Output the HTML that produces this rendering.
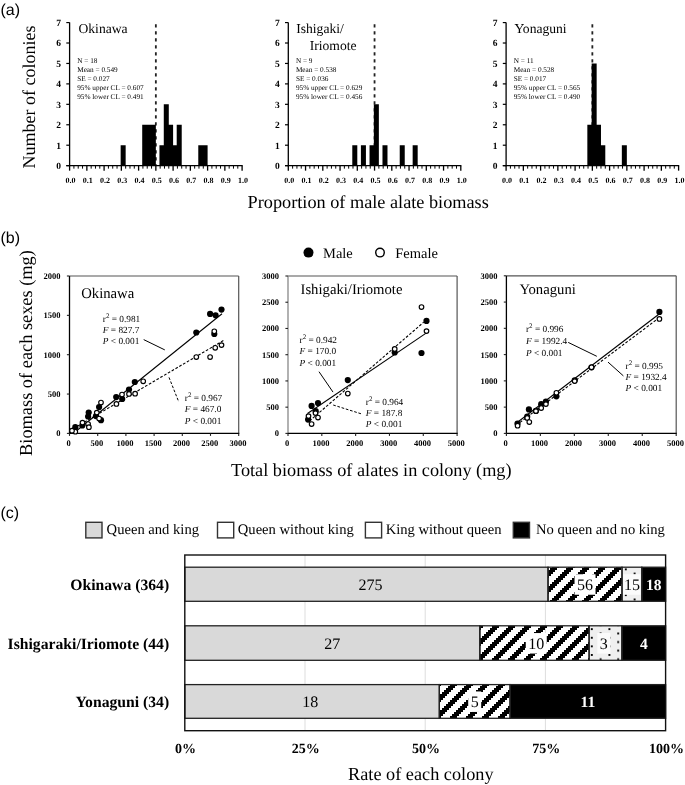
<!DOCTYPE html>
<html><head><meta charset="utf-8"><style>
html,body{margin:0;padding:0;background:#fff;}
svg{display:block;text-rendering:geometricPrecision;will-change:transform;}
</style></head><body>
<svg width="685" height="785" viewBox="0 0 685 785">
<rect width="685" height="785" fill="#fff"/>
<text x="0.50" y="14.70" font-size="16" text-anchor="start" fill="#000" font-family='"Liberation Sans", sans-serif' >(a)</text>
<text transform="translate(34.8,97) rotate(-90)" font-size="18" text-anchor="middle" font-family='"Liberation Serif", serif'>Number of colonies</text>
<line x1="155.85" y1="24.20" x2="155.85" y2="165.65" stroke="#222" stroke-width="1.8" stroke-dasharray="3.4,3.6"/>
<path d="M120.65,165.65V145.21H125.66V165.65ZM142.21,165.65V124.77H147.22V165.65ZM146.53,165.65V124.77H151.54V165.65ZM150.84,165.65V124.77H155.85V165.65ZM159.46,165.65V145.21H164.47V165.65ZM163.78,165.65V104.33H168.79V165.65ZM168.09,165.65V124.77H173.10V165.65ZM172.40,165.65V145.21H177.41V165.65ZM176.71,165.65V124.77H181.72V165.65ZM198.28,165.65V145.21H203.29V165.65ZM202.59,165.65V145.21H207.60V165.65Z" fill="#000" fill-rule="nonzero"/>
<line x1="69.60" y1="22.40" x2="69.60" y2="166.25" stroke="#000" stroke-width="1.3" />
<line x1="66.30" y1="165.65" x2="69.60" y2="165.65" stroke="#000" stroke-width="1.2" />
<text x="61.00" y="168.95" font-size="9.5" text-anchor="end" font-weight="bold" fill="#000" font-family='"Liberation Serif", serif' >0</text>
<line x1="66.30" y1="145.21" x2="69.60" y2="145.21" stroke="#000" stroke-width="1.2" />
<text x="61.00" y="148.51" font-size="9.5" text-anchor="end" font-weight="bold" fill="#000" font-family='"Liberation Serif", serif' >1</text>
<line x1="66.30" y1="124.77" x2="69.60" y2="124.77" stroke="#000" stroke-width="1.2" />
<text x="61.00" y="128.07" font-size="9.5" text-anchor="end" font-weight="bold" fill="#000" font-family='"Liberation Serif", serif' >2</text>
<line x1="66.30" y1="104.33" x2="69.60" y2="104.33" stroke="#000" stroke-width="1.2" />
<text x="61.00" y="107.63" font-size="9.5" text-anchor="end" font-weight="bold" fill="#000" font-family='"Liberation Serif", serif' >3</text>
<line x1="66.30" y1="83.89" x2="69.60" y2="83.89" stroke="#000" stroke-width="1.2" />
<text x="61.00" y="87.19" font-size="9.5" text-anchor="end" font-weight="bold" fill="#000" font-family='"Liberation Serif", serif' >4</text>
<line x1="66.30" y1="63.45" x2="69.60" y2="63.45" stroke="#000" stroke-width="1.2" />
<text x="61.00" y="66.75" font-size="9.5" text-anchor="end" font-weight="bold" fill="#000" font-family='"Liberation Serif", serif' >5</text>
<line x1="66.30" y1="43.01" x2="69.60" y2="43.01" stroke="#000" stroke-width="1.2" />
<text x="61.00" y="46.31" font-size="9.5" text-anchor="end" font-weight="bold" fill="#000" font-family='"Liberation Serif", serif' >6</text>
<line x1="66.30" y1="22.57" x2="69.60" y2="22.57" stroke="#000" stroke-width="1.2" />
<text x="61.00" y="25.87" font-size="9.5" text-anchor="end" font-weight="bold" fill="#000" font-family='"Liberation Serif", serif' >7</text>
<line x1="66.30" y1="165.65" x2="242.70" y2="165.65" stroke="#000" stroke-width="1.3" />
<line x1="69.60" y1="165.65" x2="69.60" y2="170.65" stroke="#000" stroke-width="1.3" />
<line x1="73.91" y1="165.65" x2="73.91" y2="168.65" stroke="#000" stroke-width="1.0" />
<line x1="78.22" y1="165.65" x2="78.22" y2="168.65" stroke="#000" stroke-width="1.0" />
<line x1="82.54" y1="165.65" x2="82.54" y2="168.65" stroke="#000" stroke-width="1.0" />
<line x1="86.85" y1="165.65" x2="86.85" y2="170.65" stroke="#000" stroke-width="1.3" />
<line x1="91.16" y1="165.65" x2="91.16" y2="168.65" stroke="#000" stroke-width="1.0" />
<line x1="95.47" y1="165.65" x2="95.47" y2="168.65" stroke="#000" stroke-width="1.0" />
<line x1="99.79" y1="165.65" x2="99.79" y2="168.65" stroke="#000" stroke-width="1.0" />
<line x1="104.10" y1="165.65" x2="104.10" y2="170.65" stroke="#000" stroke-width="1.3" />
<line x1="108.41" y1="165.65" x2="108.41" y2="168.65" stroke="#000" stroke-width="1.0" />
<line x1="112.72" y1="165.65" x2="112.72" y2="168.65" stroke="#000" stroke-width="1.0" />
<line x1="117.04" y1="165.65" x2="117.04" y2="168.65" stroke="#000" stroke-width="1.0" />
<line x1="121.35" y1="165.65" x2="121.35" y2="170.65" stroke="#000" stroke-width="1.3" />
<line x1="125.66" y1="165.65" x2="125.66" y2="168.65" stroke="#000" stroke-width="1.0" />
<line x1="129.97" y1="165.65" x2="129.97" y2="168.65" stroke="#000" stroke-width="1.0" />
<line x1="134.29" y1="165.65" x2="134.29" y2="168.65" stroke="#000" stroke-width="1.0" />
<line x1="138.60" y1="165.65" x2="138.60" y2="170.65" stroke="#000" stroke-width="1.3" />
<line x1="142.91" y1="165.65" x2="142.91" y2="168.65" stroke="#000" stroke-width="1.0" />
<line x1="147.22" y1="165.65" x2="147.22" y2="168.65" stroke="#000" stroke-width="1.0" />
<line x1="151.54" y1="165.65" x2="151.54" y2="168.65" stroke="#000" stroke-width="1.0" />
<line x1="155.85" y1="165.65" x2="155.85" y2="170.65" stroke="#000" stroke-width="1.3" />
<line x1="160.16" y1="165.65" x2="160.16" y2="168.65" stroke="#000" stroke-width="1.0" />
<line x1="164.47" y1="165.65" x2="164.47" y2="168.65" stroke="#000" stroke-width="1.0" />
<line x1="168.79" y1="165.65" x2="168.79" y2="168.65" stroke="#000" stroke-width="1.0" />
<line x1="173.10" y1="165.65" x2="173.10" y2="170.65" stroke="#000" stroke-width="1.3" />
<line x1="177.41" y1="165.65" x2="177.41" y2="168.65" stroke="#000" stroke-width="1.0" />
<line x1="181.72" y1="165.65" x2="181.72" y2="168.65" stroke="#000" stroke-width="1.0" />
<line x1="186.04" y1="165.65" x2="186.04" y2="168.65" stroke="#000" stroke-width="1.0" />
<line x1="190.35" y1="165.65" x2="190.35" y2="170.65" stroke="#000" stroke-width="1.3" />
<line x1="194.66" y1="165.65" x2="194.66" y2="168.65" stroke="#000" stroke-width="1.0" />
<line x1="198.97" y1="165.65" x2="198.97" y2="168.65" stroke="#000" stroke-width="1.0" />
<line x1="203.29" y1="165.65" x2="203.29" y2="168.65" stroke="#000" stroke-width="1.0" />
<line x1="207.60" y1="165.65" x2="207.60" y2="170.65" stroke="#000" stroke-width="1.3" />
<line x1="211.91" y1="165.65" x2="211.91" y2="168.65" stroke="#000" stroke-width="1.0" />
<line x1="216.22" y1="165.65" x2="216.22" y2="168.65" stroke="#000" stroke-width="1.0" />
<line x1="220.54" y1="165.65" x2="220.54" y2="168.65" stroke="#000" stroke-width="1.0" />
<line x1="224.85" y1="165.65" x2="224.85" y2="170.65" stroke="#000" stroke-width="1.3" />
<line x1="229.16" y1="165.65" x2="229.16" y2="168.65" stroke="#000" stroke-width="1.0" />
<line x1="233.47" y1="165.65" x2="233.47" y2="168.65" stroke="#000" stroke-width="1.0" />
<line x1="237.79" y1="165.65" x2="237.79" y2="168.65" stroke="#000" stroke-width="1.0" />
<line x1="242.10" y1="165.65" x2="242.10" y2="170.65" stroke="#000" stroke-width="1.3" />
<text x="70.60" y="182.80" font-size="8" text-anchor="middle" font-weight="bold" fill="#000" font-family='"Liberation Serif", serif' >0.0</text>
<text x="87.85" y="182.80" font-size="8" text-anchor="middle" font-weight="bold" fill="#000" font-family='"Liberation Serif", serif' >0.1</text>
<text x="105.10" y="182.80" font-size="8" text-anchor="middle" font-weight="bold" fill="#000" font-family='"Liberation Serif", serif' >0.2</text>
<text x="122.35" y="182.80" font-size="8" text-anchor="middle" font-weight="bold" fill="#000" font-family='"Liberation Serif", serif' >0.3</text>
<text x="139.60" y="182.80" font-size="8" text-anchor="middle" font-weight="bold" fill="#000" font-family='"Liberation Serif", serif' >0.4</text>
<text x="156.85" y="182.80" font-size="8" text-anchor="middle" font-weight="bold" fill="#000" font-family='"Liberation Serif", serif' >0.5</text>
<text x="174.10" y="182.80" font-size="8" text-anchor="middle" font-weight="bold" fill="#000" font-family='"Liberation Serif", serif' >0.6</text>
<text x="191.35" y="182.80" font-size="8" text-anchor="middle" font-weight="bold" fill="#000" font-family='"Liberation Serif", serif' >0.7</text>
<text x="208.60" y="182.80" font-size="8" text-anchor="middle" font-weight="bold" fill="#000" font-family='"Liberation Serif", serif' >0.8</text>
<text x="225.85" y="182.80" font-size="8" text-anchor="middle" font-weight="bold" fill="#000" font-family='"Liberation Serif", serif' >0.9</text>
<text x="243.10" y="182.80" font-size="8" text-anchor="middle" font-weight="bold" fill="#000" font-family='"Liberation Serif", serif' >1.0</text>
<text x="78.50" y="32.90" font-size="13.6" text-anchor="start" fill="#000" font-family='"Liberation Serif", serif' >Okinawa</text>
<text x="77.20" y="62.60" font-size="7.25" text-anchor="start" fill="#000" font-family='"Liberation Serif", serif' >N = 18</text>
<text x="77.20" y="71.60" font-size="7.25" text-anchor="start" fill="#000" font-family='"Liberation Serif", serif' >Mean = 0.549</text>
<text x="77.20" y="80.60" font-size="7.25" text-anchor="start" fill="#000" font-family='"Liberation Serif", serif' >SE = 0.027</text>
<text x="77.20" y="89.60" font-size="7.25" text-anchor="start" fill="#000" font-family='"Liberation Serif", serif' >95% upper CL = 0.607</text>
<text x="77.20" y="98.60" font-size="7.25" text-anchor="start" fill="#000" font-family='"Liberation Serif", serif' >95% lower CL = 0.491</text>
<line x1="374.55" y1="24.20" x2="374.55" y2="165.65" stroke="#222" stroke-width="1.8" stroke-dasharray="3.4,3.6"/>
<path d="M352.29,165.65V145.21H357.30V165.65ZM360.91,165.65V145.21H365.93V165.65ZM369.54,165.65V145.21H374.55V165.65ZM373.85,165.65V104.33H378.86V165.65ZM382.48,165.65V145.21H387.49V165.65ZM399.73,165.65V145.21H404.74V165.65ZM412.66,165.65V145.21H417.68V165.65Z" fill="#000" fill-rule="nonzero"/>
<line x1="288.30" y1="22.40" x2="288.30" y2="166.25" stroke="#000" stroke-width="1.3" />
<line x1="285.00" y1="165.65" x2="288.30" y2="165.65" stroke="#000" stroke-width="1.2" />
<text x="279.70" y="168.95" font-size="9.5" text-anchor="end" font-weight="bold" fill="#000" font-family='"Liberation Serif", serif' >0</text>
<line x1="285.00" y1="145.21" x2="288.30" y2="145.21" stroke="#000" stroke-width="1.2" />
<text x="279.70" y="148.51" font-size="9.5" text-anchor="end" font-weight="bold" fill="#000" font-family='"Liberation Serif", serif' >1</text>
<line x1="285.00" y1="124.77" x2="288.30" y2="124.77" stroke="#000" stroke-width="1.2" />
<text x="279.70" y="128.07" font-size="9.5" text-anchor="end" font-weight="bold" fill="#000" font-family='"Liberation Serif", serif' >2</text>
<line x1="285.00" y1="104.33" x2="288.30" y2="104.33" stroke="#000" stroke-width="1.2" />
<text x="279.70" y="107.63" font-size="9.5" text-anchor="end" font-weight="bold" fill="#000" font-family='"Liberation Serif", serif' >3</text>
<line x1="285.00" y1="83.89" x2="288.30" y2="83.89" stroke="#000" stroke-width="1.2" />
<text x="279.70" y="87.19" font-size="9.5" text-anchor="end" font-weight="bold" fill="#000" font-family='"Liberation Serif", serif' >4</text>
<line x1="285.00" y1="63.45" x2="288.30" y2="63.45" stroke="#000" stroke-width="1.2" />
<text x="279.70" y="66.75" font-size="9.5" text-anchor="end" font-weight="bold" fill="#000" font-family='"Liberation Serif", serif' >5</text>
<line x1="285.00" y1="43.01" x2="288.30" y2="43.01" stroke="#000" stroke-width="1.2" />
<text x="279.70" y="46.31" font-size="9.5" text-anchor="end" font-weight="bold" fill="#000" font-family='"Liberation Serif", serif' >6</text>
<line x1="285.00" y1="22.57" x2="288.30" y2="22.57" stroke="#000" stroke-width="1.2" />
<text x="279.70" y="25.87" font-size="9.5" text-anchor="end" font-weight="bold" fill="#000" font-family='"Liberation Serif", serif' >7</text>
<line x1="285.00" y1="165.65" x2="461.40" y2="165.65" stroke="#000" stroke-width="1.3" />
<line x1="288.30" y1="165.65" x2="288.30" y2="170.65" stroke="#000" stroke-width="1.3" />
<line x1="292.61" y1="165.65" x2="292.61" y2="168.65" stroke="#000" stroke-width="1.0" />
<line x1="296.93" y1="165.65" x2="296.93" y2="168.65" stroke="#000" stroke-width="1.0" />
<line x1="301.24" y1="165.65" x2="301.24" y2="168.65" stroke="#000" stroke-width="1.0" />
<line x1="305.55" y1="165.65" x2="305.55" y2="170.65" stroke="#000" stroke-width="1.3" />
<line x1="309.86" y1="165.65" x2="309.86" y2="168.65" stroke="#000" stroke-width="1.0" />
<line x1="314.18" y1="165.65" x2="314.18" y2="168.65" stroke="#000" stroke-width="1.0" />
<line x1="318.49" y1="165.65" x2="318.49" y2="168.65" stroke="#000" stroke-width="1.0" />
<line x1="322.80" y1="165.65" x2="322.80" y2="170.65" stroke="#000" stroke-width="1.3" />
<line x1="327.11" y1="165.65" x2="327.11" y2="168.65" stroke="#000" stroke-width="1.0" />
<line x1="331.43" y1="165.65" x2="331.43" y2="168.65" stroke="#000" stroke-width="1.0" />
<line x1="335.74" y1="165.65" x2="335.74" y2="168.65" stroke="#000" stroke-width="1.0" />
<line x1="340.05" y1="165.65" x2="340.05" y2="170.65" stroke="#000" stroke-width="1.3" />
<line x1="344.36" y1="165.65" x2="344.36" y2="168.65" stroke="#000" stroke-width="1.0" />
<line x1="348.68" y1="165.65" x2="348.68" y2="168.65" stroke="#000" stroke-width="1.0" />
<line x1="352.99" y1="165.65" x2="352.99" y2="168.65" stroke="#000" stroke-width="1.0" />
<line x1="357.30" y1="165.65" x2="357.30" y2="170.65" stroke="#000" stroke-width="1.3" />
<line x1="361.61" y1="165.65" x2="361.61" y2="168.65" stroke="#000" stroke-width="1.0" />
<line x1="365.93" y1="165.65" x2="365.93" y2="168.65" stroke="#000" stroke-width="1.0" />
<line x1="370.24" y1="165.65" x2="370.24" y2="168.65" stroke="#000" stroke-width="1.0" />
<line x1="374.55" y1="165.65" x2="374.55" y2="170.65" stroke="#000" stroke-width="1.3" />
<line x1="378.86" y1="165.65" x2="378.86" y2="168.65" stroke="#000" stroke-width="1.0" />
<line x1="383.18" y1="165.65" x2="383.18" y2="168.65" stroke="#000" stroke-width="1.0" />
<line x1="387.49" y1="165.65" x2="387.49" y2="168.65" stroke="#000" stroke-width="1.0" />
<line x1="391.80" y1="165.65" x2="391.80" y2="170.65" stroke="#000" stroke-width="1.3" />
<line x1="396.11" y1="165.65" x2="396.11" y2="168.65" stroke="#000" stroke-width="1.0" />
<line x1="400.43" y1="165.65" x2="400.43" y2="168.65" stroke="#000" stroke-width="1.0" />
<line x1="404.74" y1="165.65" x2="404.74" y2="168.65" stroke="#000" stroke-width="1.0" />
<line x1="409.05" y1="165.65" x2="409.05" y2="170.65" stroke="#000" stroke-width="1.3" />
<line x1="413.36" y1="165.65" x2="413.36" y2="168.65" stroke="#000" stroke-width="1.0" />
<line x1="417.68" y1="165.65" x2="417.68" y2="168.65" stroke="#000" stroke-width="1.0" />
<line x1="421.99" y1="165.65" x2="421.99" y2="168.65" stroke="#000" stroke-width="1.0" />
<line x1="426.30" y1="165.65" x2="426.30" y2="170.65" stroke="#000" stroke-width="1.3" />
<line x1="430.61" y1="165.65" x2="430.61" y2="168.65" stroke="#000" stroke-width="1.0" />
<line x1="434.93" y1="165.65" x2="434.93" y2="168.65" stroke="#000" stroke-width="1.0" />
<line x1="439.24" y1="165.65" x2="439.24" y2="168.65" stroke="#000" stroke-width="1.0" />
<line x1="443.55" y1="165.65" x2="443.55" y2="170.65" stroke="#000" stroke-width="1.3" />
<line x1="447.86" y1="165.65" x2="447.86" y2="168.65" stroke="#000" stroke-width="1.0" />
<line x1="452.18" y1="165.65" x2="452.18" y2="168.65" stroke="#000" stroke-width="1.0" />
<line x1="456.49" y1="165.65" x2="456.49" y2="168.65" stroke="#000" stroke-width="1.0" />
<line x1="460.80" y1="165.65" x2="460.80" y2="170.65" stroke="#000" stroke-width="1.3" />
<text x="289.30" y="182.80" font-size="8" text-anchor="middle" font-weight="bold" fill="#000" font-family='"Liberation Serif", serif' >0.0</text>
<text x="306.55" y="182.80" font-size="8" text-anchor="middle" font-weight="bold" fill="#000" font-family='"Liberation Serif", serif' >0.1</text>
<text x="323.80" y="182.80" font-size="8" text-anchor="middle" font-weight="bold" fill="#000" font-family='"Liberation Serif", serif' >0.2</text>
<text x="341.05" y="182.80" font-size="8" text-anchor="middle" font-weight="bold" fill="#000" font-family='"Liberation Serif", serif' >0.3</text>
<text x="358.30" y="182.80" font-size="8" text-anchor="middle" font-weight="bold" fill="#000" font-family='"Liberation Serif", serif' >0.4</text>
<text x="375.55" y="182.80" font-size="8" text-anchor="middle" font-weight="bold" fill="#000" font-family='"Liberation Serif", serif' >0.5</text>
<text x="392.80" y="182.80" font-size="8" text-anchor="middle" font-weight="bold" fill="#000" font-family='"Liberation Serif", serif' >0.6</text>
<text x="410.05" y="182.80" font-size="8" text-anchor="middle" font-weight="bold" fill="#000" font-family='"Liberation Serif", serif' >0.7</text>
<text x="427.30" y="182.80" font-size="8" text-anchor="middle" font-weight="bold" fill="#000" font-family='"Liberation Serif", serif' >0.8</text>
<text x="444.55" y="182.80" font-size="8" text-anchor="middle" font-weight="bold" fill="#000" font-family='"Liberation Serif", serif' >0.9</text>
<text x="461.80" y="182.80" font-size="8" text-anchor="middle" font-weight="bold" fill="#000" font-family='"Liberation Serif", serif' >1.0</text>
<text x="296.20" y="32.90" font-size="13.6" text-anchor="start" fill="#000" font-family='"Liberation Serif", serif' >Ishigaki/</text>
<text x="309.70" y="49.70" font-size="13.6" text-anchor="start" fill="#000" font-family='"Liberation Serif", serif' >Iriomote</text>
<text x="295.90" y="62.60" font-size="7.25" text-anchor="start" fill="#000" font-family='"Liberation Serif", serif' >N = 9</text>
<text x="295.90" y="71.60" font-size="7.25" text-anchor="start" fill="#000" font-family='"Liberation Serif", serif' >Mean = 0.538</text>
<text x="295.90" y="80.60" font-size="7.25" text-anchor="start" fill="#000" font-family='"Liberation Serif", serif' >SE = 0.036</text>
<text x="295.90" y="89.60" font-size="7.25" text-anchor="start" fill="#000" font-family='"Liberation Serif", serif' >95% upper CL = 0.629</text>
<text x="295.90" y="98.60" font-size="7.25" text-anchor="start" fill="#000" font-family='"Liberation Serif", serif' >95% lower CL = 0.456</text>
<line x1="592.35" y1="24.20" x2="592.35" y2="165.65" stroke="#222" stroke-width="1.8" stroke-dasharray="3.4,3.6"/>
<path d="M587.34,165.65V124.77H592.35V165.65ZM591.65,165.65V63.45H596.66V165.65ZM595.96,165.65V124.77H600.98V165.65ZM600.27,165.65V145.21H605.29V165.65ZM621.84,165.65V145.21H626.85V165.65Z" fill="#000" fill-rule="nonzero"/>
<line x1="506.10" y1="22.40" x2="506.10" y2="166.25" stroke="#000" stroke-width="1.3" />
<line x1="502.80" y1="165.65" x2="506.10" y2="165.65" stroke="#000" stroke-width="1.2" />
<text x="497.50" y="168.95" font-size="9.5" text-anchor="end" font-weight="bold" fill="#000" font-family='"Liberation Serif", serif' >0</text>
<line x1="502.80" y1="145.21" x2="506.10" y2="145.21" stroke="#000" stroke-width="1.2" />
<text x="497.50" y="148.51" font-size="9.5" text-anchor="end" font-weight="bold" fill="#000" font-family='"Liberation Serif", serif' >1</text>
<line x1="502.80" y1="124.77" x2="506.10" y2="124.77" stroke="#000" stroke-width="1.2" />
<text x="497.50" y="128.07" font-size="9.5" text-anchor="end" font-weight="bold" fill="#000" font-family='"Liberation Serif", serif' >2</text>
<line x1="502.80" y1="104.33" x2="506.10" y2="104.33" stroke="#000" stroke-width="1.2" />
<text x="497.50" y="107.63" font-size="9.5" text-anchor="end" font-weight="bold" fill="#000" font-family='"Liberation Serif", serif' >3</text>
<line x1="502.80" y1="83.89" x2="506.10" y2="83.89" stroke="#000" stroke-width="1.2" />
<text x="497.50" y="87.19" font-size="9.5" text-anchor="end" font-weight="bold" fill="#000" font-family='"Liberation Serif", serif' >4</text>
<line x1="502.80" y1="63.45" x2="506.10" y2="63.45" stroke="#000" stroke-width="1.2" />
<text x="497.50" y="66.75" font-size="9.5" text-anchor="end" font-weight="bold" fill="#000" font-family='"Liberation Serif", serif' >5</text>
<line x1="502.80" y1="43.01" x2="506.10" y2="43.01" stroke="#000" stroke-width="1.2" />
<text x="497.50" y="46.31" font-size="9.5" text-anchor="end" font-weight="bold" fill="#000" font-family='"Liberation Serif", serif' >6</text>
<line x1="502.80" y1="22.57" x2="506.10" y2="22.57" stroke="#000" stroke-width="1.2" />
<text x="497.50" y="25.87" font-size="9.5" text-anchor="end" font-weight="bold" fill="#000" font-family='"Liberation Serif", serif' >7</text>
<line x1="502.80" y1="165.65" x2="679.20" y2="165.65" stroke="#000" stroke-width="1.3" />
<line x1="506.10" y1="165.65" x2="506.10" y2="170.65" stroke="#000" stroke-width="1.3" />
<line x1="510.41" y1="165.65" x2="510.41" y2="168.65" stroke="#000" stroke-width="1.0" />
<line x1="514.73" y1="165.65" x2="514.73" y2="168.65" stroke="#000" stroke-width="1.0" />
<line x1="519.04" y1="165.65" x2="519.04" y2="168.65" stroke="#000" stroke-width="1.0" />
<line x1="523.35" y1="165.65" x2="523.35" y2="170.65" stroke="#000" stroke-width="1.3" />
<line x1="527.66" y1="165.65" x2="527.66" y2="168.65" stroke="#000" stroke-width="1.0" />
<line x1="531.98" y1="165.65" x2="531.98" y2="168.65" stroke="#000" stroke-width="1.0" />
<line x1="536.29" y1="165.65" x2="536.29" y2="168.65" stroke="#000" stroke-width="1.0" />
<line x1="540.60" y1="165.65" x2="540.60" y2="170.65" stroke="#000" stroke-width="1.3" />
<line x1="544.91" y1="165.65" x2="544.91" y2="168.65" stroke="#000" stroke-width="1.0" />
<line x1="549.23" y1="165.65" x2="549.23" y2="168.65" stroke="#000" stroke-width="1.0" />
<line x1="553.54" y1="165.65" x2="553.54" y2="168.65" stroke="#000" stroke-width="1.0" />
<line x1="557.85" y1="165.65" x2="557.85" y2="170.65" stroke="#000" stroke-width="1.3" />
<line x1="562.16" y1="165.65" x2="562.16" y2="168.65" stroke="#000" stroke-width="1.0" />
<line x1="566.48" y1="165.65" x2="566.48" y2="168.65" stroke="#000" stroke-width="1.0" />
<line x1="570.79" y1="165.65" x2="570.79" y2="168.65" stroke="#000" stroke-width="1.0" />
<line x1="575.10" y1="165.65" x2="575.10" y2="170.65" stroke="#000" stroke-width="1.3" />
<line x1="579.41" y1="165.65" x2="579.41" y2="168.65" stroke="#000" stroke-width="1.0" />
<line x1="583.73" y1="165.65" x2="583.73" y2="168.65" stroke="#000" stroke-width="1.0" />
<line x1="588.04" y1="165.65" x2="588.04" y2="168.65" stroke="#000" stroke-width="1.0" />
<line x1="592.35" y1="165.65" x2="592.35" y2="170.65" stroke="#000" stroke-width="1.3" />
<line x1="596.66" y1="165.65" x2="596.66" y2="168.65" stroke="#000" stroke-width="1.0" />
<line x1="600.98" y1="165.65" x2="600.98" y2="168.65" stroke="#000" stroke-width="1.0" />
<line x1="605.29" y1="165.65" x2="605.29" y2="168.65" stroke="#000" stroke-width="1.0" />
<line x1="609.60" y1="165.65" x2="609.60" y2="170.65" stroke="#000" stroke-width="1.3" />
<line x1="613.91" y1="165.65" x2="613.91" y2="168.65" stroke="#000" stroke-width="1.0" />
<line x1="618.23" y1="165.65" x2="618.23" y2="168.65" stroke="#000" stroke-width="1.0" />
<line x1="622.54" y1="165.65" x2="622.54" y2="168.65" stroke="#000" stroke-width="1.0" />
<line x1="626.85" y1="165.65" x2="626.85" y2="170.65" stroke="#000" stroke-width="1.3" />
<line x1="631.16" y1="165.65" x2="631.16" y2="168.65" stroke="#000" stroke-width="1.0" />
<line x1="635.48" y1="165.65" x2="635.48" y2="168.65" stroke="#000" stroke-width="1.0" />
<line x1="639.79" y1="165.65" x2="639.79" y2="168.65" stroke="#000" stroke-width="1.0" />
<line x1="644.10" y1="165.65" x2="644.10" y2="170.65" stroke="#000" stroke-width="1.3" />
<line x1="648.41" y1="165.65" x2="648.41" y2="168.65" stroke="#000" stroke-width="1.0" />
<line x1="652.73" y1="165.65" x2="652.73" y2="168.65" stroke="#000" stroke-width="1.0" />
<line x1="657.04" y1="165.65" x2="657.04" y2="168.65" stroke="#000" stroke-width="1.0" />
<line x1="661.35" y1="165.65" x2="661.35" y2="170.65" stroke="#000" stroke-width="1.3" />
<line x1="665.66" y1="165.65" x2="665.66" y2="168.65" stroke="#000" stroke-width="1.0" />
<line x1="669.98" y1="165.65" x2="669.98" y2="168.65" stroke="#000" stroke-width="1.0" />
<line x1="674.29" y1="165.65" x2="674.29" y2="168.65" stroke="#000" stroke-width="1.0" />
<line x1="678.60" y1="165.65" x2="678.60" y2="170.65" stroke="#000" stroke-width="1.3" />
<text x="507.10" y="182.80" font-size="8" text-anchor="middle" font-weight="bold" fill="#000" font-family='"Liberation Serif", serif' >0.0</text>
<text x="524.35" y="182.80" font-size="8" text-anchor="middle" font-weight="bold" fill="#000" font-family='"Liberation Serif", serif' >0.1</text>
<text x="541.60" y="182.80" font-size="8" text-anchor="middle" font-weight="bold" fill="#000" font-family='"Liberation Serif", serif' >0.2</text>
<text x="558.85" y="182.80" font-size="8" text-anchor="middle" font-weight="bold" fill="#000" font-family='"Liberation Serif", serif' >0.3</text>
<text x="576.10" y="182.80" font-size="8" text-anchor="middle" font-weight="bold" fill="#000" font-family='"Liberation Serif", serif' >0.4</text>
<text x="593.35" y="182.80" font-size="8" text-anchor="middle" font-weight="bold" fill="#000" font-family='"Liberation Serif", serif' >0.5</text>
<text x="610.60" y="182.80" font-size="8" text-anchor="middle" font-weight="bold" fill="#000" font-family='"Liberation Serif", serif' >0.6</text>
<text x="627.85" y="182.80" font-size="8" text-anchor="middle" font-weight="bold" fill="#000" font-family='"Liberation Serif", serif' >0.7</text>
<text x="645.10" y="182.80" font-size="8" text-anchor="middle" font-weight="bold" fill="#000" font-family='"Liberation Serif", serif' >0.8</text>
<text x="662.35" y="182.80" font-size="8" text-anchor="middle" font-weight="bold" fill="#000" font-family='"Liberation Serif", serif' >0.9</text>
<text x="679.60" y="182.80" font-size="8" text-anchor="middle" font-weight="bold" fill="#000" font-family='"Liberation Serif", serif' >1.0</text>
<text x="514.40" y="32.90" font-size="13.6" text-anchor="start" fill="#000" font-family='"Liberation Serif", serif' >Yonaguni</text>
<text x="513.70" y="62.60" font-size="7.25" text-anchor="start" fill="#000" font-family='"Liberation Serif", serif' >N = 11</text>
<text x="513.70" y="71.60" font-size="7.25" text-anchor="start" fill="#000" font-family='"Liberation Serif", serif' >Mean = 0.528</text>
<text x="513.70" y="80.60" font-size="7.25" text-anchor="start" fill="#000" font-family='"Liberation Serif", serif' >SE = 0.017</text>
<text x="513.70" y="89.60" font-size="7.25" text-anchor="start" fill="#000" font-family='"Liberation Serif", serif' >95% upper CL = 0.565</text>
<text x="513.70" y="98.60" font-size="7.25" text-anchor="start" fill="#000" font-family='"Liberation Serif", serif' >95% lower CL = 0.490</text>
<text x="368.20" y="207.60" font-size="18.25" text-anchor="middle" fill="#000" font-family='"Liberation Serif", serif' >Proportion of male alate biomass</text>
<text x="0.50" y="242.70" font-size="16" text-anchor="start" fill="#000" font-family='"Liberation Sans", sans-serif' >(b)</text>
<circle cx="308.5" cy="252.6" r="5" fill="#000"/>
<text x="323.00" y="257.50" font-size="14.5" text-anchor="start" fill="#000" font-family='"Liberation Serif", serif' >Male</text>
<circle cx="380" cy="252.6" r="4.3" fill="#fff" stroke="#000" stroke-width="1.4"/>
<text x="395.30" y="257.50" font-size="14.5" text-anchor="start" fill="#000" font-family='"Liberation Serif", serif' >Female</text>
<text transform="translate(31.7,353) rotate(-90)" font-size="18.35" text-anchor="middle" font-family='"Liberation Serif", serif'>Biomass of each sexes (mg)</text>
<line x1="69.50" y1="276.00" x2="238.70" y2="276.00" stroke="#555" stroke-width="1.2" />
<line x1="238.70" y1="276.00" x2="238.70" y2="433.40" stroke="#555" stroke-width="1.2" />
<line x1="69.50" y1="276.00" x2="69.50" y2="434.00" stroke="#000" stroke-width="1.3" />
<line x1="69.50" y1="433.40" x2="239.30" y2="433.40" stroke="#000" stroke-width="1.3" />
<line x1="66.90" y1="433.40" x2="69.50" y2="433.40" stroke="#222" stroke-width="1.1" />
<text x="60.50" y="436.40" font-size="8.5" text-anchor="end" font-weight="bold" fill="#000" font-family='"Liberation Serif", serif' >0</text>
<line x1="66.90" y1="394.05" x2="69.50" y2="394.05" stroke="#222" stroke-width="1.1" />
<text x="60.50" y="397.05" font-size="8.5" text-anchor="end" font-weight="bold" fill="#000" font-family='"Liberation Serif", serif' >500</text>
<line x1="66.90" y1="354.70" x2="69.50" y2="354.70" stroke="#222" stroke-width="1.1" />
<text x="60.50" y="357.70" font-size="8.5" text-anchor="end" font-weight="bold" fill="#000" font-family='"Liberation Serif", serif' >1000</text>
<line x1="66.90" y1="315.35" x2="69.50" y2="315.35" stroke="#222" stroke-width="1.1" />
<text x="60.50" y="318.35" font-size="8.5" text-anchor="end" font-weight="bold" fill="#000" font-family='"Liberation Serif", serif' >1500</text>
<line x1="66.90" y1="276.00" x2="69.50" y2="276.00" stroke="#222" stroke-width="1.1" />
<text x="60.50" y="279.00" font-size="8.5" text-anchor="end" font-weight="bold" fill="#000" font-family='"Liberation Serif", serif' >2000</text>
<line x1="69.50" y1="433.40" x2="69.50" y2="435.90" stroke="#222" stroke-width="1.1" />
<text x="68.70" y="445.70" font-size="8.5" text-anchor="middle" font-weight="bold" fill="#000" font-family='"Liberation Serif", serif' >0</text>
<line x1="97.70" y1="433.40" x2="97.70" y2="435.90" stroke="#222" stroke-width="1.1" />
<text x="96.90" y="445.70" font-size="8.5" text-anchor="middle" font-weight="bold" fill="#000" font-family='"Liberation Serif", serif' >500</text>
<line x1="125.90" y1="433.40" x2="125.90" y2="435.90" stroke="#222" stroke-width="1.1" />
<text x="125.10" y="445.70" font-size="8.5" text-anchor="middle" font-weight="bold" fill="#000" font-family='"Liberation Serif", serif' >1000</text>
<line x1="154.10" y1="433.40" x2="154.10" y2="435.90" stroke="#222" stroke-width="1.1" />
<text x="153.30" y="445.70" font-size="8.5" text-anchor="middle" font-weight="bold" fill="#000" font-family='"Liberation Serif", serif' >1500</text>
<line x1="182.30" y1="433.40" x2="182.30" y2="435.90" stroke="#222" stroke-width="1.1" />
<text x="181.50" y="445.70" font-size="8.5" text-anchor="middle" font-weight="bold" fill="#000" font-family='"Liberation Serif", serif' >2000</text>
<line x1="210.50" y1="433.40" x2="210.50" y2="435.90" stroke="#222" stroke-width="1.1" />
<text x="209.70" y="445.70" font-size="8.5" text-anchor="middle" font-weight="bold" fill="#000" font-family='"Liberation Serif", serif' >2500</text>
<line x1="238.70" y1="433.40" x2="238.70" y2="435.90" stroke="#222" stroke-width="1.1" />
<text x="237.90" y="445.70" font-size="8.5" text-anchor="middle" font-weight="bold" fill="#000" font-family='"Liberation Serif", serif' >3000</text>
<text x="81.20" y="297.60" font-size="14.7" text-anchor="start" fill="#000" font-family='"Liberation Serif", serif' >Okinawa</text>
<line x1="288.00" y1="276.00" x2="457.10" y2="276.00" stroke="#555" stroke-width="1.2" />
<line x1="457.10" y1="276.00" x2="457.10" y2="433.40" stroke="#555" stroke-width="1.2" />
<line x1="288.00" y1="276.00" x2="288.00" y2="434.00" stroke="#888" stroke-width="1.3" />
<line x1="288.00" y1="433.40" x2="457.70" y2="433.40" stroke="#000" stroke-width="1.3" />
<line x1="285.40" y1="433.40" x2="288.00" y2="433.40" stroke="#222" stroke-width="1.1" />
<text x="279.00" y="436.40" font-size="8.5" text-anchor="end" font-weight="bold" fill="#000" font-family='"Liberation Serif", serif' >0</text>
<line x1="285.40" y1="407.17" x2="288.00" y2="407.17" stroke="#222" stroke-width="1.1" />
<text x="279.00" y="410.17" font-size="8.5" text-anchor="end" font-weight="bold" fill="#000" font-family='"Liberation Serif", serif' >500</text>
<line x1="285.40" y1="380.93" x2="288.00" y2="380.93" stroke="#222" stroke-width="1.1" />
<text x="279.00" y="383.93" font-size="8.5" text-anchor="end" font-weight="bold" fill="#000" font-family='"Liberation Serif", serif' >1000</text>
<line x1="285.40" y1="354.70" x2="288.00" y2="354.70" stroke="#222" stroke-width="1.1" />
<text x="279.00" y="357.70" font-size="8.5" text-anchor="end" font-weight="bold" fill="#000" font-family='"Liberation Serif", serif' >1500</text>
<line x1="285.40" y1="328.47" x2="288.00" y2="328.47" stroke="#222" stroke-width="1.1" />
<text x="279.00" y="331.47" font-size="8.5" text-anchor="end" font-weight="bold" fill="#000" font-family='"Liberation Serif", serif' >2000</text>
<line x1="285.40" y1="302.23" x2="288.00" y2="302.23" stroke="#222" stroke-width="1.1" />
<text x="279.00" y="305.23" font-size="8.5" text-anchor="end" font-weight="bold" fill="#000" font-family='"Liberation Serif", serif' >2500</text>
<line x1="285.40" y1="276.00" x2="288.00" y2="276.00" stroke="#222" stroke-width="1.1" />
<text x="279.00" y="279.00" font-size="8.5" text-anchor="end" font-weight="bold" fill="#000" font-family='"Liberation Serif", serif' >3000</text>
<line x1="288.00" y1="433.40" x2="288.00" y2="435.90" stroke="#222" stroke-width="1.1" />
<text x="287.20" y="445.70" font-size="8.5" text-anchor="middle" font-weight="bold" fill="#000" font-family='"Liberation Serif", serif' >0</text>
<line x1="321.82" y1="433.40" x2="321.82" y2="435.90" stroke="#222" stroke-width="1.1" />
<text x="321.02" y="445.70" font-size="8.5" text-anchor="middle" font-weight="bold" fill="#000" font-family='"Liberation Serif", serif' >1000</text>
<line x1="355.64" y1="433.40" x2="355.64" y2="435.90" stroke="#222" stroke-width="1.1" />
<text x="354.84" y="445.70" font-size="8.5" text-anchor="middle" font-weight="bold" fill="#000" font-family='"Liberation Serif", serif' >2000</text>
<line x1="389.46" y1="433.40" x2="389.46" y2="435.90" stroke="#222" stroke-width="1.1" />
<text x="388.66" y="445.70" font-size="8.5" text-anchor="middle" font-weight="bold" fill="#000" font-family='"Liberation Serif", serif' >3000</text>
<line x1="423.28" y1="433.40" x2="423.28" y2="435.90" stroke="#222" stroke-width="1.1" />
<text x="422.48" y="445.70" font-size="8.5" text-anchor="middle" font-weight="bold" fill="#000" font-family='"Liberation Serif", serif' >4000</text>
<line x1="457.10" y1="433.40" x2="457.10" y2="435.90" stroke="#222" stroke-width="1.1" />
<text x="456.30" y="445.70" font-size="8.5" text-anchor="middle" font-weight="bold" fill="#000" font-family='"Liberation Serif", serif' >5000</text>
<text x="300.50" y="294.10" font-size="14.7" text-anchor="start" fill="#000" font-family='"Liberation Serif", serif' >Ishigaki/Iriomote</text>
<line x1="506.40" y1="275.80" x2="676.20" y2="275.80" stroke="#555" stroke-width="1.2" />
<line x1="676.20" y1="275.80" x2="676.20" y2="433.40" stroke="#555" stroke-width="1.2" />
<line x1="506.40" y1="275.80" x2="506.40" y2="434.00" stroke="#000" stroke-width="1.3" />
<line x1="506.40" y1="433.40" x2="676.80" y2="433.40" stroke="#000" stroke-width="1.3" />
<line x1="503.80" y1="433.40" x2="506.40" y2="433.40" stroke="#222" stroke-width="1.1" />
<text x="497.40" y="436.40" font-size="8.5" text-anchor="end" font-weight="bold" fill="#000" font-family='"Liberation Serif", serif' >0</text>
<line x1="503.80" y1="407.13" x2="506.40" y2="407.13" stroke="#222" stroke-width="1.1" />
<text x="497.40" y="410.13" font-size="8.5" text-anchor="end" font-weight="bold" fill="#000" font-family='"Liberation Serif", serif' >500</text>
<line x1="503.80" y1="380.87" x2="506.40" y2="380.87" stroke="#222" stroke-width="1.1" />
<text x="497.40" y="383.87" font-size="8.5" text-anchor="end" font-weight="bold" fill="#000" font-family='"Liberation Serif", serif' >1000</text>
<line x1="503.80" y1="354.60" x2="506.40" y2="354.60" stroke="#222" stroke-width="1.1" />
<text x="497.40" y="357.60" font-size="8.5" text-anchor="end" font-weight="bold" fill="#000" font-family='"Liberation Serif", serif' >1500</text>
<line x1="503.80" y1="328.33" x2="506.40" y2="328.33" stroke="#222" stroke-width="1.1" />
<text x="497.40" y="331.33" font-size="8.5" text-anchor="end" font-weight="bold" fill="#000" font-family='"Liberation Serif", serif' >2000</text>
<line x1="503.80" y1="302.07" x2="506.40" y2="302.07" stroke="#222" stroke-width="1.1" />
<text x="497.40" y="305.07" font-size="8.5" text-anchor="end" font-weight="bold" fill="#000" font-family='"Liberation Serif", serif' >2500</text>
<line x1="503.80" y1="275.80" x2="506.40" y2="275.80" stroke="#222" stroke-width="1.1" />
<text x="497.40" y="278.80" font-size="8.5" text-anchor="end" font-weight="bold" fill="#000" font-family='"Liberation Serif", serif' >3000</text>
<line x1="506.40" y1="433.40" x2="506.40" y2="435.90" stroke="#222" stroke-width="1.1" />
<text x="505.60" y="445.70" font-size="8.5" text-anchor="middle" font-weight="bold" fill="#000" font-family='"Liberation Serif", serif' >0</text>
<line x1="540.36" y1="433.40" x2="540.36" y2="435.90" stroke="#222" stroke-width="1.1" />
<text x="539.56" y="445.70" font-size="8.5" text-anchor="middle" font-weight="bold" fill="#000" font-family='"Liberation Serif", serif' >1000</text>
<line x1="574.32" y1="433.40" x2="574.32" y2="435.90" stroke="#222" stroke-width="1.1" />
<text x="573.52" y="445.70" font-size="8.5" text-anchor="middle" font-weight="bold" fill="#000" font-family='"Liberation Serif", serif' >2000</text>
<line x1="608.28" y1="433.40" x2="608.28" y2="435.90" stroke="#222" stroke-width="1.1" />
<text x="607.48" y="445.70" font-size="8.5" text-anchor="middle" font-weight="bold" fill="#000" font-family='"Liberation Serif", serif' >3000</text>
<line x1="642.24" y1="433.40" x2="642.24" y2="435.90" stroke="#222" stroke-width="1.1" />
<text x="641.44" y="445.70" font-size="8.5" text-anchor="middle" font-weight="bold" fill="#000" font-family='"Liberation Serif", serif' >4000</text>
<line x1="676.20" y1="433.40" x2="676.20" y2="435.90" stroke="#222" stroke-width="1.1" />
<text x="675.40" y="445.70" font-size="8.5" text-anchor="middle" font-weight="bold" fill="#000" font-family='"Liberation Serif", serif' >5000</text>
<text x="519.40" y="294.40" font-size="14.7" text-anchor="start" fill="#000" font-family='"Liberation Serif", serif' >Yonaguni</text>
<line x1="75.00" y1="432.00" x2="222.00" y2="313.80" stroke="#000" stroke-width="1.1" />
<line x1="73.00" y1="428.80" x2="223.50" y2="340.50" stroke="#000" stroke-width="1.1" stroke-dasharray="2.7,1.7"/>
<circle cx="221.5" cy="309.6" r="3.1" fill="#000"/>
<circle cx="210.1" cy="313.9" r="3.1" fill="#000"/>
<circle cx="215.6" cy="315.3" r="3.1" fill="#000"/>
<circle cx="196.3" cy="332.5" r="3.1" fill="#000"/>
<circle cx="214.3" cy="334.0" r="3.1" fill="#000"/>
<circle cx="134.8" cy="382.0" r="3.1" fill="#000"/>
<circle cx="129.0" cy="389.6" r="3.1" fill="#000"/>
<circle cx="116.2" cy="397.1" r="3.1" fill="#000"/>
<circle cx="122.2" cy="399.0" r="3.1" fill="#000"/>
<circle cx="99.1" cy="407.1" r="3.1" fill="#000"/>
<circle cx="88.7" cy="412.6" r="3.1" fill="#000"/>
<circle cx="88.1" cy="416.5" r="3.1" fill="#000"/>
<circle cx="96.0" cy="416.1" r="3.1" fill="#000"/>
<circle cx="101.0" cy="420.2" r="3.1" fill="#000"/>
<circle cx="82.3" cy="425.5" r="3.1" fill="#000"/>
<circle cx="75.3" cy="427.2" r="3.1" fill="#000"/>
<circle cx="214.3" cy="331.3" r="2.3" fill="#fff" stroke="#000" stroke-width="1.15"/>
<circle cx="215.2" cy="347.8" r="2.3" fill="#fff" stroke="#000" stroke-width="1.15"/>
<circle cx="221.5" cy="345.1" r="2.3" fill="#fff" stroke="#000" stroke-width="1.15"/>
<circle cx="196.3" cy="357.0" r="2.3" fill="#fff" stroke="#000" stroke-width="1.15"/>
<circle cx="210.1" cy="357.0" r="2.3" fill="#fff" stroke="#000" stroke-width="1.15"/>
<circle cx="143.2" cy="381.3" r="2.3" fill="#fff" stroke="#000" stroke-width="1.15"/>
<circle cx="122.0" cy="394.5" r="2.3" fill="#fff" stroke="#000" stroke-width="1.15"/>
<circle cx="129.0" cy="393.9" r="2.3" fill="#fff" stroke="#000" stroke-width="1.15"/>
<circle cx="135.1" cy="393.7" r="2.3" fill="#fff" stroke="#000" stroke-width="1.15"/>
<circle cx="116.4" cy="403.9" r="2.3" fill="#fff" stroke="#000" stroke-width="1.15"/>
<circle cx="101.0" cy="402.5" r="2.3" fill="#fff" stroke="#000" stroke-width="1.15"/>
<circle cx="96.8" cy="412.6" r="2.3" fill="#fff" stroke="#000" stroke-width="1.15"/>
<circle cx="99.1" cy="418.5" r="2.3" fill="#fff" stroke="#000" stroke-width="1.15"/>
<circle cx="82.5" cy="422.6" r="2.3" fill="#fff" stroke="#000" stroke-width="1.15"/>
<circle cx="88.1" cy="424.0" r="2.3" fill="#fff" stroke="#000" stroke-width="1.15"/>
<circle cx="88.9" cy="427.2" r="2.3" fill="#fff" stroke="#000" stroke-width="1.15"/>
<circle cx="75.3" cy="431.7" r="2.3" fill="#fff" stroke="#000" stroke-width="1.15"/>
<circle cx="72.0" cy="430.7" r="2.3" fill="#fff" stroke="#000" stroke-width="1.15"/>
<line x1="307.50" y1="413.50" x2="426.50" y2="332.90" stroke="#000" stroke-width="1.1" />
<line x1="309.50" y1="421.00" x2="423.70" y2="322.20" stroke="#000" stroke-width="1.1" stroke-dasharray="2.7,1.7"/>
<circle cx="426.5" cy="320.9" r="3.1" fill="#000"/>
<circle cx="421.5" cy="353.0" r="3.1" fill="#000"/>
<circle cx="394.7" cy="352.5" r="3.1" fill="#000"/>
<circle cx="347.8" cy="380.1" r="3.1" fill="#000"/>
<circle cx="318.0" cy="403.0" r="3.1" fill="#000"/>
<circle cx="311.6" cy="405.9" r="3.1" fill="#000"/>
<circle cx="315.7" cy="411.2" r="3.1" fill="#000"/>
<circle cx="308.1" cy="419.6" r="3.1" fill="#000"/>
<circle cx="421.5" cy="307.0" r="2.3" fill="#fff" stroke="#000" stroke-width="1.15"/>
<circle cx="426.5" cy="331.1" r="2.3" fill="#fff" stroke="#000" stroke-width="1.15"/>
<circle cx="394.7" cy="348.9" r="2.3" fill="#fff" stroke="#000" stroke-width="1.15"/>
<circle cx="347.8" cy="393.5" r="2.3" fill="#fff" stroke="#000" stroke-width="1.15"/>
<circle cx="315.5" cy="413.1" r="2.3" fill="#fff" stroke="#000" stroke-width="1.15"/>
<circle cx="318.0" cy="417.5" r="2.3" fill="#fff" stroke="#000" stroke-width="1.15"/>
<circle cx="308.5" cy="416.1" r="2.3" fill="#fff" stroke="#000" stroke-width="1.15"/>
<circle cx="311.6" cy="424.0" r="2.3" fill="#fff" stroke="#000" stroke-width="1.15"/>
<line x1="516.50" y1="423.00" x2="658.50" y2="314.50" stroke="#000" stroke-width="1.1" />
<line x1="516.50" y1="425.00" x2="657.50" y2="319.00" stroke="#000" stroke-width="1.1" stroke-dasharray="2.7,1.7"/>
<circle cx="659.4" cy="311.9" r="3.1" fill="#000"/>
<circle cx="591.5" cy="367.3" r="3.1" fill="#000"/>
<circle cx="574.7" cy="380.3" r="3.1" fill="#000"/>
<circle cx="556.4" cy="396.3" r="3.1" fill="#000"/>
<circle cx="545.9" cy="401.5" r="3.1" fill="#000"/>
<circle cx="541.2" cy="404.2" r="3.1" fill="#000"/>
<circle cx="535.9" cy="410.9" r="3.1" fill="#000"/>
<circle cx="528.9" cy="409.4" r="3.1" fill="#000"/>
<circle cx="527.2" cy="416.7" r="3.1" fill="#000"/>
<circle cx="517.5" cy="423.6" r="3.1" fill="#000"/>
<circle cx="659.4" cy="318.9" r="2.3" fill="#fff" stroke="#000" stroke-width="1.15"/>
<circle cx="591.5" cy="367.3" r="2.3" fill="#fff" stroke="#000" stroke-width="1.15"/>
<circle cx="574.7" cy="381.1" r="2.3" fill="#fff" stroke="#000" stroke-width="1.15"/>
<circle cx="556.4" cy="392.8" r="2.3" fill="#fff" stroke="#000" stroke-width="1.15"/>
<circle cx="545.9" cy="404.1" r="2.3" fill="#fff" stroke="#000" stroke-width="1.15"/>
<circle cx="541.2" cy="408.0" r="2.3" fill="#fff" stroke="#000" stroke-width="1.15"/>
<circle cx="535.9" cy="411.1" r="2.3" fill="#fff" stroke="#000" stroke-width="1.15"/>
<circle cx="527.2" cy="417.9" r="2.3" fill="#fff" stroke="#000" stroke-width="1.15"/>
<circle cx="529.3" cy="422.0" r="2.3" fill="#fff" stroke="#000" stroke-width="1.15"/>
<circle cx="517.6" cy="425.7" r="2.3" fill="#fff" stroke="#000" stroke-width="1.15"/>
<text x="102.8" y="321.9" font-size="9.3" font-family='"Liberation Serif", serif'>r<tspan font-size="7" dy="-4">2</tspan><tspan dy="4"> = 0.981</tspan></text>
<text x="102.8" y="333.15" font-size="9.3" font-family='"Liberation Serif", serif'><tspan font-style="italic">F</tspan> = 827.7</text>
<text x="102.8" y="344.40" font-size="9.3" font-family='"Liberation Serif", serif'><tspan font-style="italic">P</tspan> &lt; 0.001</text>
<line x1="143.70" y1="339.60" x2="164.80" y2="349.90" stroke="#000" stroke-width="1" />
<text x="184.8" y="400.8" font-size="9.3" font-family='"Liberation Serif", serif'>r<tspan font-size="7" dy="-4">2</tspan><tspan dy="4"> = 0.967</tspan></text>
<text x="184.8" y="412.20" font-size="9.3" font-family='"Liberation Serif", serif'><tspan font-style="italic">F</tspan> = 467.0</text>
<text x="184.8" y="423.60" font-size="9.3" font-family='"Liberation Serif", serif'><tspan font-style="italic">P</tspan> &lt; 0.001</text>
<line x1="169.00" y1="377.40" x2="178.80" y2="402.00" stroke="#000" stroke-width="1" stroke-dasharray="2.7,1.7"/>
<text x="299.6" y="342.7" font-size="9.3" font-family='"Liberation Serif", serif'>r<tspan font-size="7" dy="-4">2</tspan><tspan dy="4"> = 0.942</tspan></text>
<text x="299.6" y="354.10" font-size="9.3" font-family='"Liberation Serif", serif'><tspan font-style="italic">F</tspan> = 170.0</text>
<text x="299.6" y="365.50" font-size="9.3" font-family='"Liberation Serif", serif'><tspan font-style="italic">P</tspan> &lt; 0.001</text>
<line x1="319.00" y1="371.70" x2="333.00" y2="392.10" stroke="#000" stroke-width="1" />
<text x="365.8" y="404.7" font-size="9.3" font-family='"Liberation Serif", serif'>r<tspan font-size="7" dy="-4">2</tspan><tspan dy="4"> = 0.964</tspan></text>
<text x="365.8" y="415.95" font-size="9.3" font-family='"Liberation Serif", serif'><tspan font-style="italic">F</tspan> = 187.8</text>
<text x="365.8" y="427.20" font-size="9.3" font-family='"Liberation Serif", serif'><tspan font-style="italic">P</tspan> &lt; 0.001</text>
<line x1="333.20" y1="405.00" x2="361.80" y2="414.00" stroke="#000" stroke-width="1" stroke-dasharray="2.7,1.7"/>
<text x="526.0" y="332.3" font-size="9.3" font-family='"Liberation Serif", serif'>r<tspan font-size="7" dy="-4">2</tspan><tspan dy="4"> = 0.996</tspan></text>
<text x="526.0" y="343.90" font-size="9.3" font-family='"Liberation Serif", serif'><tspan font-style="italic">F</tspan> = 1992.4</text>
<text x="526.0" y="355.50" font-size="9.3" font-family='"Liberation Serif", serif'><tspan font-style="italic">P</tspan> &lt; 0.001</text>
<line x1="568.20" y1="342.40" x2="596.80" y2="356.30" stroke="#000" stroke-width="1" />
<text x="625.6" y="368.8" font-size="9.3" font-family='"Liberation Serif", serif'>r<tspan font-size="7" dy="-4">2</tspan><tspan dy="4"> = 0.995</tspan></text>
<text x="625.6" y="380.00" font-size="9.3" font-family='"Liberation Serif", serif'><tspan font-style="italic">F</tspan> = 1932.4</text>
<text x="625.6" y="391.20" font-size="9.3" font-family='"Liberation Serif", serif'><tspan font-style="italic">P</tspan> &lt; 0.001</text>
<line x1="608.00" y1="362.10" x2="623.40" y2="375.90" stroke="#000" stroke-width="1" />
<text x="371.30" y="476.00" font-size="18.25" text-anchor="middle" fill="#000" font-family='"Liberation Serif", serif' >Total biomass of alates in colony (mg)</text>
<text x="0.50" y="517.50" font-size="16" text-anchor="start" fill="#000" font-family='"Liberation Sans", sans-serif' >(c)</text>
<rect x="85.8" y="522.3" width="16.2" height="15.6" fill="#d9d9d9" stroke="#333" stroke-width="1.4"/>
<text x="106.60" y="534.40" font-size="14.6" text-anchor="start" fill="#000" font-family='"Liberation Serif", serif' >Queen and king</text>
<rect x="217.5" y="522.3" width="16.2" height="15.6" fill="#fff" stroke="#333" stroke-width="1.4"/>
<text x="237.80" y="534.40" font-size="14.6" text-anchor="start" fill="#000" font-family='"Liberation Serif", serif' >Queen without king</text>
<rect x="365.4" y="522.3" width="16.2" height="15.6" fill="#fff" stroke="#333" stroke-width="1.4"/>
<text x="385.70" y="534.40" font-size="14.6" text-anchor="start" fill="#000" font-family='"Liberation Serif", serif' >King without queen</text>
<rect x="513.3" y="522.3" width="16.2" height="15.6" fill="#000" stroke="#333" stroke-width="1.4"/>
<text x="535.90" y="534.40" font-size="14.6" text-anchor="start" fill="#000" font-family='"Liberation Serif", serif' >No queen and no king</text>
<line x1="305.00" y1="555.00" x2="305.00" y2="730.50" stroke="#ddd" stroke-width="1" />
<line x1="425.20" y1="555.00" x2="425.20" y2="730.50" stroke="#ddd" stroke-width="1" />
<line x1="545.40" y1="555.00" x2="545.40" y2="730.50" stroke="#ddd" stroke-width="1" />
<defs>
<pattern id="hatch" patternUnits="userSpaceOnUse" width="16" height="16" x="0" y="0">
<rect x="14" y="0" width="2" height="2" fill="#000"/>
<rect x="0" y="0" width="5" height="2" fill="#000"/>
<rect x="12" y="2" width="4" height="2" fill="#000"/>
<rect x="0" y="2" width="3" height="2" fill="#000"/>
<rect x="10" y="4" width="6" height="2" fill="#000"/>
<rect x="0" y="4" width="1" height="2" fill="#000"/>
<rect x="8" y="6" width="7" height="2" fill="#000"/>
<rect x="6" y="8" width="7" height="2" fill="#000"/>
<rect x="4" y="10" width="7" height="2" fill="#000"/>
<rect x="2" y="12" width="7" height="2" fill="#000"/>
<rect x="0" y="14" width="7" height="2" fill="#000"/>
</pattern>
<pattern id="dots0" patternUnits="userSpaceOnUse" width="17.6" height="8.6" x="624.85" y="568.4">
<rect x="0" y="0" width="17.6" height="8.6" fill="#efefef"/>
<rect x="0" y="0" width="1.9" height="1.9" fill="#000"/>
<rect x="8.8" y="4.3" width="1.9" height="1.9" fill="#000"/>
</pattern>
<pattern id="dots1" patternUnits="userSpaceOnUse" width="17.6" height="8.6" x="590.85" y="628.2">
<rect x="0" y="0" width="17.6" height="8.6" fill="#efefef"/>
<rect x="0" y="0" width="1.9" height="1.9" fill="#000"/>
<rect x="8.8" y="4.3" width="1.9" height="1.9" fill="#000"/>
</pattern>
<pattern id="dots2" patternUnits="userSpaceOnUse" width="17.6" height="8.6" x="590.85" y="628.2">
<rect x="0" y="0" width="17.6" height="8.6" fill="#efefef"/>
<rect x="0" y="0" width="1.9" height="1.9" fill="#000"/>
<rect x="8.8" y="4.3" width="1.9" height="1.9" fill="#000"/>
</pattern>
</defs>
<rect x="184.80" y="567.20" width="363.24" height="34.10" fill="#d9d9d9"/>
<rect x="548.04" y="567.20" width="73.97" height="34.10" fill="url(#hatch)"/>
<rect x="622.01" y="567.20" width="19.81" height="34.10" fill="url(#dots0)"/>
<rect x="641.82" y="567.20" width="23.78" height="34.10" fill="#000"/>
<rect x="574.53" y="574.25" width="21.00" height="20.5" fill="#fff"/>
<rect x="623.21" y="574.25" width="17.41" height="20.5" fill="#fbfbfb"/>
<rect x="184.80" y="567.20" width="363.24" height="34.10" fill="none" stroke="#222" stroke-width="1.3"/>
<rect x="548.04" y="567.20" width="73.97" height="34.10" fill="none" stroke="#222" stroke-width="1.3"/>
<rect x="622.01" y="567.20" width="19.81" height="34.10" fill="none" stroke="#222" stroke-width="1.3"/>
<rect x="641.82" y="567.20" width="23.78" height="34.10" fill="none" stroke="#222" stroke-width="1.3"/>
<text x="370.42" y="590.05" font-size="16" text-anchor="middle" fill="#000" font-family='"Liberation Serif", serif' >275</text>
<text x="585.03" y="590.05" font-size="16" text-anchor="middle" fill="#000" font-family='"Liberation Serif", serif' >56</text>
<text x="631.92" y="590.05" font-size="16" text-anchor="middle" fill="#000" font-family='"Liberation Serif", serif' >15</text>
<text x="653.71" y="590.05" font-size="15.5" text-anchor="middle" font-weight="bold" fill="#fff" font-family='"Liberation Serif", serif' >18</text>
<rect x="184.80" y="625.80" width="295.04" height="34.50" fill="#d9d9d9"/>
<rect x="479.84" y="625.80" width="109.27" height="34.50" fill="url(#hatch)"/>
<rect x="589.11" y="625.80" width="32.78" height="34.50" fill="url(#dots1)"/>
<rect x="621.89" y="625.80" width="43.71" height="34.50" fill="#000"/>
<rect x="525.77" y="633.05" width="21.00" height="20.5" fill="#fff"/>
<rect x="597.30" y="633.05" width="13.00" height="20.5" fill="#fbfbfb"/>
<rect x="184.80" y="625.80" width="295.04" height="34.50" fill="none" stroke="#222" stroke-width="1.3"/>
<rect x="479.84" y="625.80" width="109.27" height="34.50" fill="none" stroke="#222" stroke-width="1.3"/>
<rect x="589.11" y="625.80" width="32.78" height="34.50" fill="none" stroke="#222" stroke-width="1.3"/>
<rect x="621.89" y="625.80" width="43.71" height="34.50" fill="none" stroke="#222" stroke-width="1.3"/>
<text x="332.32" y="648.85" font-size="16" text-anchor="middle" fill="#000" font-family='"Liberation Serif", serif' >27</text>
<text x="536.27" y="648.85" font-size="16" text-anchor="middle" fill="#000" font-family='"Liberation Serif", serif' >10</text>
<text x="603.80" y="648.85" font-size="16" text-anchor="middle" fill="#000" font-family='"Liberation Serif", serif' >3</text>
<text x="643.75" y="648.85" font-size="15.5" text-anchor="middle" font-weight="bold" fill="#fff" font-family='"Liberation Serif", serif' >4</text>
<rect x="184.80" y="684.60" width="254.54" height="33.70" fill="#d9d9d9"/>
<rect x="439.34" y="684.60" width="70.71" height="33.70" fill="url(#hatch)"/>
<rect x="510.05" y="684.60" width="155.55" height="33.70" fill="#000"/>
<rect x="468.19" y="691.45" width="13.00" height="20.5" fill="#fff"/>
<rect x="184.80" y="684.60" width="254.54" height="33.70" fill="none" stroke="#222" stroke-width="1.3"/>
<rect x="439.34" y="684.60" width="70.71" height="33.70" fill="none" stroke="#222" stroke-width="1.3"/>
<rect x="510.05" y="684.60" width="155.55" height="33.70" fill="none" stroke="#222" stroke-width="1.3"/>
<text x="310.27" y="707.25" font-size="16" text-anchor="middle" fill="#000" font-family='"Liberation Serif", serif' >18</text>
<text x="474.69" y="707.25" font-size="16" text-anchor="middle" fill="#000" font-family='"Liberation Serif", serif' >5</text>
<text x="587.82" y="707.25" font-size="15.5" text-anchor="middle" font-weight="bold" fill="#fff" font-family='"Liberation Serif", serif' >11</text>
<rect x="184.80" y="555" width="480.80" height="175.7" fill="none" stroke="#111" stroke-width="1.4"/>
<text x="169.20" y="589.85" font-size="15.7" text-anchor="end" font-weight="bold" fill="#000" font-family='"Liberation Serif", serif' >Okinawa (364)</text>
<text x="169.20" y="648.65" font-size="15.7" text-anchor="end" font-weight="bold" fill="#000" font-family='"Liberation Serif", serif' >Ishigaraki/Iriomote (44)</text>
<text x="169.20" y="707.05" font-size="15.7" text-anchor="end" font-weight="bold" fill="#000" font-family='"Liberation Serif", serif' >Yonaguni (34)</text>
<text x="185.60" y="752.50" font-size="14" text-anchor="middle" font-weight="bold" fill="#000" font-family='"Liberation Serif", serif' >0%</text>
<text x="305.80" y="752.50" font-size="14" text-anchor="middle" font-weight="bold" fill="#000" font-family='"Liberation Serif", serif' >25%</text>
<text x="426.00" y="752.50" font-size="14" text-anchor="middle" font-weight="bold" fill="#000" font-family='"Liberation Serif", serif' >50%</text>
<text x="546.20" y="752.50" font-size="14" text-anchor="middle" font-weight="bold" fill="#000" font-family='"Liberation Serif", serif' >75%</text>
<text x="666.40" y="752.50" font-size="14" text-anchor="middle" font-weight="bold" fill="#000" font-family='"Liberation Serif", serif' >100%</text>
<text x="420.80" y="779.50" font-size="18.25" text-anchor="middle" fill="#000" font-family='"Liberation Serif", serif' >Rate of each colony</text>
</svg></body></html>
